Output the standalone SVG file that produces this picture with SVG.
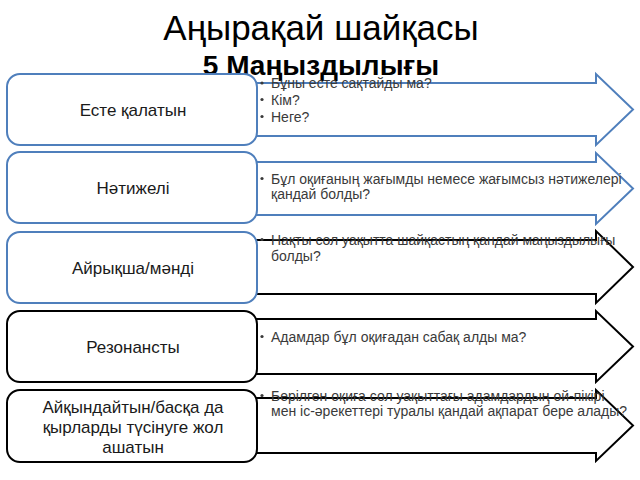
<svg xmlns="http://www.w3.org/2000/svg" width="640" height="480" viewBox="0 0 640 480">
<style>
.bg{fill:#ffffff}
.arrow{fill:#ffffff;stroke-width:2;stroke-linejoin:miter}
.blue{stroke:#4f7fbc}
.black{stroke:#000000}
.box{fill:#ffffff;stroke-width:2}
.title{font-family:"Liberation Sans",Arial,sans-serif;font-size:35px;fill:#000000;text-anchor:middle}
.sub{font-family:"Liberation Sans",Arial,sans-serif;font-size:28px;font-weight:bold;fill:#000000;text-anchor:middle}
.lbl{font-family:"Liberation Sans",Arial,sans-serif;font-size:17px;fill:#1a1a1a;text-anchor:middle}
.bt{font-family:"Liberation Sans",Arial,sans-serif;font-size:14px;fill:#3a3a3a}
.dot{fill:#3a3a3a}
</style>
<rect class="bg" x="0" y="0" width="640" height="480"/>
<g id="connectors">
<polygon class="arrow blue" points="240,83 596,83 596,74 633,109.5 596,145 596,136 240,136"/>
<polygon class="arrow blue" points="240,162 596,162 596,153 633,188.5 596,224 596,215 240,215"/>
<polygon class="arrow black" points="240,240 596,240 596,231 633,267 596,303 596,294 240,294"/>
<polygon class="arrow black" points="240,319 596,319 596,311 633,346.5 596,382 596,374 240,374"/>
<polygon class="arrow black" points="240,398 596,398 596,390 633,425.5 596,461 596,453 240,453"/>
</g>
<text class="title" x="321" y="40">Аңырақай шайқасы</text>
<text class="sub" x="321" y="75">5 Маңыздылығы</text>
<g id="node1">
<rect class="box blue" x="7" y="74" width="250" height="71" rx="13"/>
<text class="lbl" x="133" y="116">Есте қалатын</text>
<circle class="dot" cx="262" cy="83" r="1.6"/>
<text class="bt" x="271" y="88">Бұны есте сақтайды ма?</text>
<circle class="dot" cx="262" cy="99.5" r="1.6"/>
<text class="bt" x="271" y="104.5">Кім?</text>
<circle class="dot" cx="262" cy="116.5" r="1.6"/>
<text class="bt" x="271" y="121.5">Неге?</text>
</g>
<g id="node2">
<rect class="box blue" x="7" y="152" width="250" height="71" rx="13"/>
<text class="lbl" x="133" y="194">Нәтижелі</text>
<circle class="dot" cx="262" cy="178.5" r="1.6"/>
<text class="bt" x="271" y="183.5">Бұл оқиғаның жағымды немесе жағымсыз нәтижелері</text>
<text class="bt" x="271" y="199">қандай болды?</text>
</g>
<g id="node3">
<rect class="box blue" x="7" y="232" width="250" height="71" rx="13"/>
<text class="lbl" x="133" y="274">Айрықша/мәнді</text>
<circle class="dot" cx="262" cy="239.5" r="1.6"/>
<text class="bt" x="271" y="244.5">Нақты сол уақытта шайқастың қандай маңыздылығы</text>
<text class="bt" x="271" y="260.5">болды?</text>
</g>
<g id="node4">
<rect class="box black" x="7" y="311" width="250" height="71" rx="13"/>
<text class="lbl" x="133" y="353">Резонансты</text>
<circle class="dot" cx="262" cy="336.5" r="1.6"/>
<text class="bt" x="271" y="341.5">Адамдар бұл оқиғадан сабақ алды ма?</text>
</g>
<g id="node5">
<rect class="box black" x="7" y="390" width="250" height="72" rx="13"/>
<text class="lbl" x="133" y="413">Айқындайтын/басқа да</text>
<text class="lbl" x="133" y="433">қырларды түсінуге жол</text>
<text class="lbl" x="133" y="453">ашатын</text>
<circle class="dot" cx="262" cy="395.5" r="1.6"/>
<text class="bt" x="271" y="400.5">Берілген оқиға сол уақыттағы адамдардың ой-пікірі</text>
<text class="bt" x="271" y="416">мен іс-әрекеттері туралы қандай ақпарат бере алады?</text>
</g>
</svg>
